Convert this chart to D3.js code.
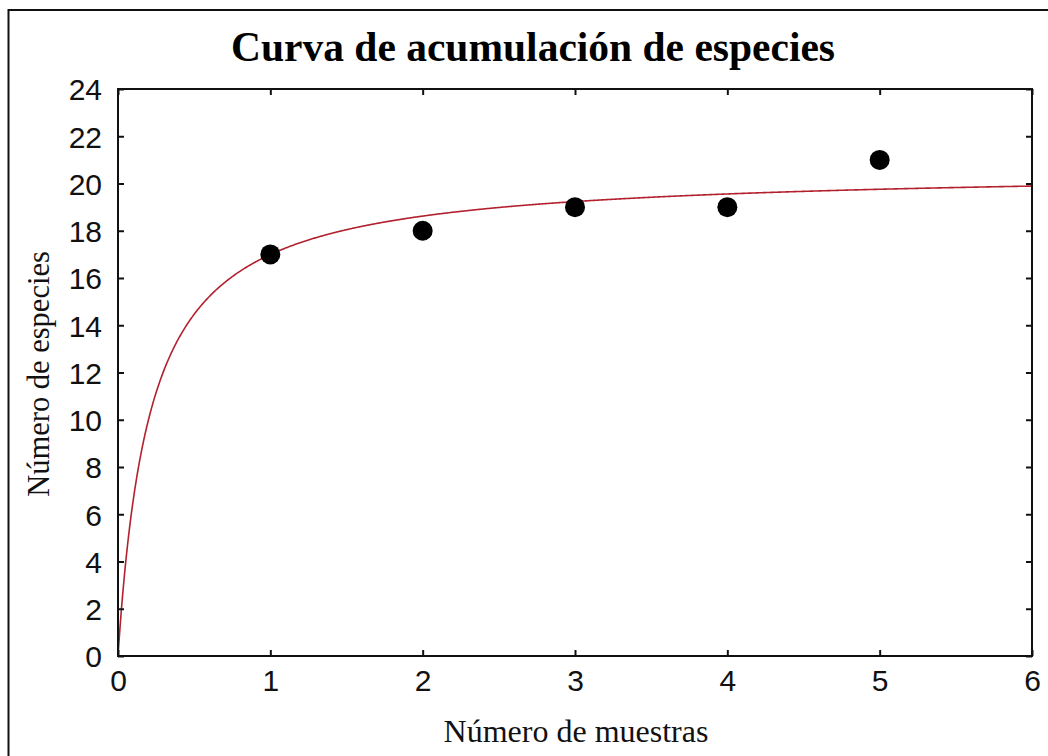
<!DOCTYPE html>
<html>
<head>
<meta charset="utf-8">
<script src="https://cdn.jsdelivr.net/npm/d3@7"></script>
<style>
  html, body { margin: 0; padding: 0; background: #fff; }
  svg { display: block; }
</style>
</head>
<body>
<svg id="chart" width="1048" height="756"></svg>
<script>
// Observed cumulative species counts per sample
const samples = [1, 2, 3, 4, 5];
const species = [17, 18, 19, 19, 21];

// Axis ticks
const xTicks = [0, 1, 2, 3, 4, 5, 6];
const yTicks = [0, 2, 4, 6, 8, 10, 12, 14, 16, 18, 20, 22, 24];

// Clench model fit: S(n) = a*n / (1 + b*n)
const clenchA = 97.2;
const clenchB = 4.72;

const titleText = "Curva de acumulación de especies";
const xTitle = "Número de muestras";
const yTitle = "Número de especies";

const svg = d3.select("#chart");
const W = 1048, H = 756;
const plot = { left: 118, top: 89, right: 1032, bottom: 656 };

// outer frame (runs off the right/bottom edges)
svg.append("rect")
  .attr("x", 8.5).attr("y", 10)
  .attr("width", W + 20).attr("height", H + 20)
  .attr("fill", "#fff").attr("stroke", "#111").attr("stroke-width", 2);

const x = d3.scaleLinear().domain([0, 6]).range([plot.left, plot.right]);
const y = d3.scaleLinear().domain([0, 24]).range([plot.bottom, plot.top]);

const sansFont = "'Liberation Sans', Arial, sans-serif";
const serifFont = "'Liberation Serif', 'Times New Roman', serif";

// clip region for the curve
svg.append("defs").append("clipPath").attr("id", "plotClip")
  .append("rect")
  .attr("x", plot.left).attr("y", plot.top)
  .attr("width", plot.right - plot.left).attr("height", plot.bottom - plot.top);

// fitted curve
const model = n => clenchA * n / (1 + clenchB * n);
const curvePts = d3.range(0, 6.0001, 0.005).map(n => [n, model(n)]);
svg.append("path")
  .datum(curvePts)
  .attr("clip-path", "url(#plotClip)")
  .attr("fill", "none")
  .attr("stroke", "#b3202e")
  .attr("stroke-width", 1.6)
  .attr("d", d3.line().x(d => x(d[0])).y(d => y(d[1])));

// observation points
svg.append("g").selectAll("circle")
  .data(samples.map((s, i) => [s, species[i]]))
  .join("circle")
  .attr("cx", d => x(d[0]))
  .attr("cy", d => y(d[1]))
  .attr("r", 10)
  .attr("fill", "#000");

// axes: ticks point inward on all four sides
const tickLen = 6;
const bottomAxis = d3.axisBottom(x).tickValues(xTicks).tickSize(-tickLen).tickPadding(14).tickFormat(d3.format("d"));
const topAxis = d3.axisTop(x).tickValues(xTicks).tickSize(-tickLen).tickFormat("");
const leftAxis = d3.axisLeft(y).tickValues(yTicks).tickSize(-tickLen).tickPadding(16).tickFormat(d3.format("d"));
const rightAxis = d3.axisRight(y).tickValues(yTicks).tickSize(-tickLen).tickFormat("");

function styleAxis(g) {
  g.select(".domain").remove();
  g.selectAll(".tick line").attr("stroke", "#111").attr("stroke-width", 2);
  g.selectAll(".tick text")
    .attr("fill", "#111")
    .style("font-family", sansFont)
    .style("font-size", "30px");
}

svg.append("g").attr("transform", `translate(0,${plot.bottom})`).call(bottomAxis).call(styleAxis);
svg.append("g").attr("transform", `translate(0,${plot.top})`).call(topAxis).call(styleAxis);
svg.append("g").attr("transform", `translate(${plot.left},0)`).call(leftAxis).call(styleAxis)
  .selectAll(".tick text").attr("dy", "0.36em");
svg.append("g").attr("transform", `translate(${plot.right},0)`).call(rightAxis).call(styleAxis);

// plot frame
svg.append("rect")
  .attr("x", plot.left).attr("y", plot.top)
  .attr("width", plot.right - plot.left).attr("height", plot.bottom - plot.top)
  .attr("fill", "none").attr("stroke", "#111").attr("stroke-width", 2);

// title
svg.append("text")
  .attr("x", 533).attr("y", 61)
  .attr("text-anchor", "middle")
  .style("font-family", serifFont)
  .style("font-weight", "bold")
  .style("font-size", "41.5px")
  .attr("fill", "#000")
  .text(titleText);

// axis titles
svg.append("text")
  .attr("x", 576).attr("y", 742)
  .attr("text-anchor", "middle")
  .style("font-family", serifFont)
  .style("font-size", "32px")
  .attr("fill", "#111")
  .text(xTitle);

svg.append("text")
  .attr("transform", "translate(49,374) rotate(-90)")
  .attr("text-anchor", "middle")
  .style("font-family", serifFont)
  .style("font-size", "30.5px")
  .attr("fill", "#111")
  .text(yTitle);
</script>
</body>
</html>
